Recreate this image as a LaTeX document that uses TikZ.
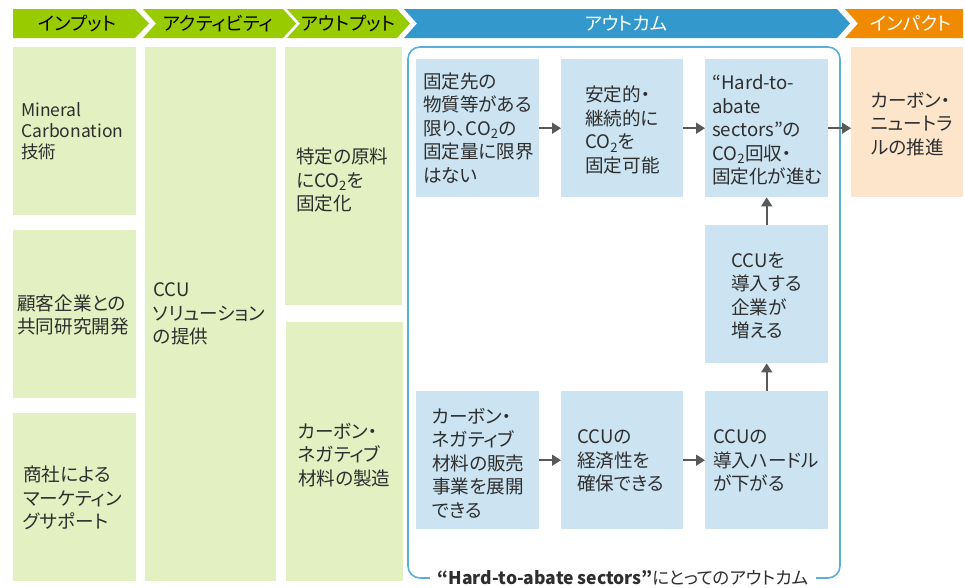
\documentclass[tikz,border=0pt]{standalone}
\usepackage{fontspec}
\setmainfont{Noto Sans CJK JP}[RawFeature=+palt]
\usetikzlibrary{arrows.meta}
\definecolor{hgreen}{HTML}{99CC00}
\definecolor{hblue}{HTML}{3399CC}
\definecolor{horange}{HTML}{F08A00}
\definecolor{lgreen}{HTML}{E3F0C2}
\definecolor{lblue}{HTML}{CCE4F2}
\definecolor{lorange}{HTML}{FDE5CC}
\definecolor{framec}{HTML}{5AAEDC}
\definecolor{arr}{HTML}{595959}
\definecolor{txt}{HTML}{2E2E2E}
\begin{document}
\begin{tikzpicture}[x=1pt,y=-1pt,
  hdrtxt/.style={font=\fontsize{18.5}{18.5}\selectfont, inner sep=0},
  boxbase/.style={anchor=north west, inner sep=0, draw=none},
  gbox/.style={boxbase, fill=lgreen},
  bbox/.style={boxbase, fill=lblue},
  obox/.style={boxbase, fill=lorange},
  body/.style={font=\fontsize{18.6}{23.5}\selectfont, align=left, anchor=west, inner sep=0, text=txt},
  arrowline/.style={draw=arr, line width=1.6pt, -{Triangle[length=9pt,width=11pt]}}]
\useasboundingbox (0,0) rectangle (965,587);
% header chevrons
\fill[hgreen] (13,9) -- (135,9) -- (149,23.5) -- (135,38) -- (13,38) -- cycle;
\fill[hgreen] (143,9) -- (283,9) -- (296,23.5) -- (283,38) -- (143,38) -- (156,23.5) -- cycle;
\fill[hgreen] (287,9) -- (397,9) -- (410,23.5) -- (397,38) -- (287,38) -- (300,23.5) -- cycle;
\fill[hblue] (404,9) -- (837,9) -- (850,23.5) -- (837,38) -- (404,38) -- (417,23.5) -- cycle;
\fill[horange] (845,9) -- (963,9) -- (963,38) -- (845,38) -- (858,23.5) -- cycle;
\node[hdrtxt, text=black] (h1) at (77,23.5) {インプット};
\node[hdrtxt, text=black] (h2) at (218,23.5) {アクティビティ};
\node[hdrtxt, text=black] (h3) at (348,23.5) {アウトプット};
\node[hdrtxt, text=white] (h4) at (626,23.5) {アウトカム};
\node[hdrtxt, text=white] (h5) at (911,23.5) {インパクト};
% input column
\node[gbox, minimum width=123, minimum height=168] (in1) at (13,47) {};
\node[gbox, minimum width=123, minimum height=168] (in2) at (13,230) {};
\node[gbox, minimum width=123, minimum height=168] (in3) at (13,413) {};
\node[body, font=\fontsize{17.5}{21}\selectfont] (in1t) at (21,131) {Mineral\\Carbonation\\技術};
\node[body] (in2t) at (17,315) {顧客企業との\\共同研究開発};
\node[body] (in3t) at (23,498) {商社による\\マーケティン\\グサポート};
% activity
\node[gbox, minimum width=131, minimum height=534] (act) at (145,47) {};
\node[body] (actt) at (153,314) {CCU\\ソリューション\\の提供};
% output
\node[gbox, minimum width=117, minimum height=258] (out1) at (285,47) {};
\node[gbox, minimum width=117, minimum height=259] (out2) at (286,322) {};
\node[body] (out1t) at (296,180) {特定の原料\\にCO\textsubscript{2}を\\固定化};
\node[body] (out2t) at (298,455) {カーボン・\\ネガティブ\\材料の製造};
% outcome frame
\draw[framec, line width=1.6pt, rounded corners=12] (408,47) rectangle (840,578);
\node[fill=white, inner xsep=8, inner ysep=3, font=\fontsize{17.5}{17.5}\selectfont, text=txt] (lbl) at (623,578) {\textbf{“Hard-to-abate sectors”}にとってのアウトカム};
% outcome boxes
\node[bbox, minimum width=123, minimum height=138] (a1) at (416,59) {};
\node[bbox, minimum width=122, minimum height=138] (b1) at (561,59) {};
\node[bbox, minimum width=123, minimum height=138] (c1) at (705,59) {};
\node[bbox, minimum width=123, minimum height=138] (d) at (705,225) {};
\node[bbox, minimum width=123, minimum height=138] (a3) at (416,391) {};
\node[bbox, minimum width=122, minimum height=138] (b3) at (561,391) {};
\node[bbox, minimum width=123, minimum height=138] (c3) at (705,391) {};
\node[body] (a1t) at (423,128) {固定先の\\物質等がある\\限り、CO\textsubscript{2}の\\固定量に限界\\はない};
\node[body] (b1t) at (585,130) {安定的・\\継続的に\\CO\textsubscript{2}を\\固定可能};
\node[body] (c1t) at (712,130) {“Hard-to-\\abate\\sectors”の\\CO\textsubscript{2}回収・\\固定化が進む};
\node[body] (dt) at (731,296) {CCUを\\導入する\\企業が\\増える};
\node[body] (a3t) at (432,463) {カーボン・\\ネガティブ\\材料の販売\\事業を展開\\できる};
\node[body] (b3t) at (577,461) {CCUの\\経済性を\\確保できる};
\node[body] (c3t) at (713,461) {CCUの\\導入ハードル\\が下がる};
% impact
\node[obox, minimum width=112, minimum height=150] (imp) at (851,47) {};
\node[body] (impt) at (871,124) {カーボン・\\ニュートラ\\ルの推進};
% arrows
\draw[arrowline] (a1.east) -- (b1.west);
\draw[arrowline] (b1.east) -- (c1.west);
\draw[arrowline] (c1.east) -- (c1.east -| imp.west);
\draw[arrowline] (d.north) -- (c1.south);
\draw[arrowline] (c3.north) -- (d.south);
\draw[arrowline] (a3.east) -- (b3.west);
\draw[arrowline] (b3.east) -- (c3.west);
\end{tikzpicture}
\end{document}
